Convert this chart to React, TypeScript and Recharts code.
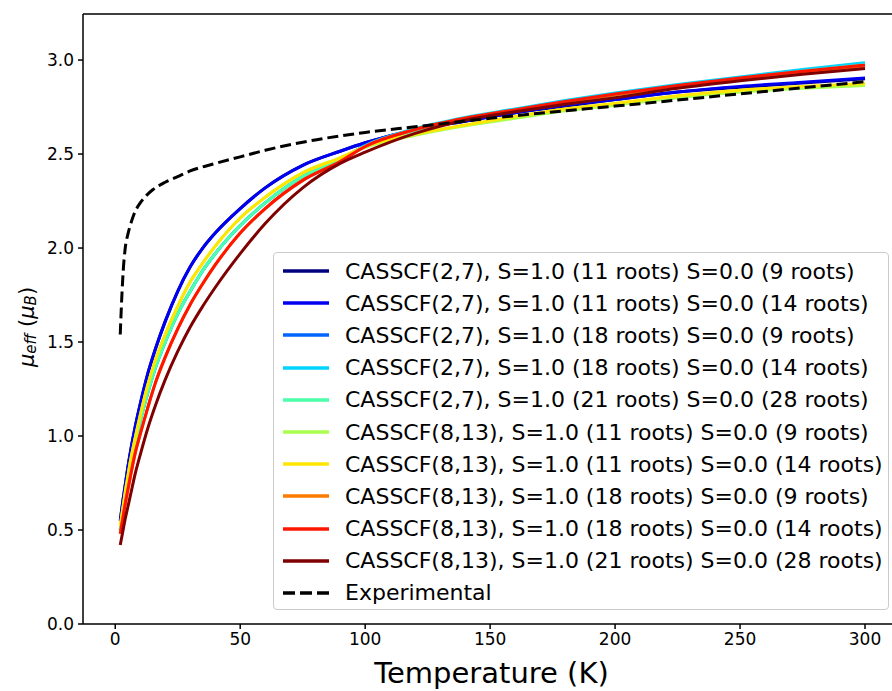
import React from 'react';
import { LineChart, Line, XAxis, YAxis, Legend, ReferenceLine, Label } from 'recharts';

const temps = [2, 3, 4, 5, 6, 8, 10, 13, 16, 20, 25, 30, 35, 40, 50, 60, 75, 90, 100, 120, 140, 160, 180, 200, 225, 250, 275, 300];

const cas27_11_9 = [0.55, 0.65, 0.74, 0.83, 0.91, 1.05, 1.17, 1.33, 1.46, 1.61, 1.77, 1.90, 2.00, 2.08, 2.21, 2.32, 2.44, 2.515, 2.56, 2.63, 2.675, 2.72, 2.755, 2.79, 2.83, 2.855, 2.878, 2.9];
const cas27_11_14 = [0.55, 0.65, 0.74, 0.83, 0.91, 1.05, 1.17, 1.33, 1.46, 1.61, 1.77, 1.90, 2.00, 2.08, 2.21, 2.32, 2.44, 2.515, 2.56, 2.63, 2.675, 2.72, 2.76, 2.79, 2.83, 2.86, 2.882, 2.905];
const cas27_18_9 = [0.50, 0.59, 0.68, 0.76, 0.83, 0.96, 1.08, 1.23, 1.36, 1.50, 1.65, 1.77, 1.88, 1.97, 2.12, 2.24, 2.38, 2.47, 2.545, 2.63, 2.69, 2.735, 2.78, 2.82, 2.865, 2.905, 2.945, 2.98];
const cas27_18_14 = [0.50, 0.59, 0.68, 0.76, 0.83, 0.96, 1.08, 1.23, 1.36, 1.50, 1.65, 1.77, 1.88, 1.97, 2.12, 2.24, 2.38, 2.47, 2.545, 2.635, 2.695, 2.74, 2.785, 2.825, 2.87, 2.91, 2.95, 2.986];
const cas27_21_28 = [0.50, 0.59, 0.68, 0.76, 0.83, 0.96, 1.08, 1.23, 1.36, 1.50, 1.65, 1.77, 1.88, 1.97, 2.12, 2.24, 2.38, 2.47, 2.54, 2.625, 2.685, 2.73, 2.775, 2.815, 2.86, 2.9, 2.94, 2.975];
const cas813_11_9 = [0.52, 0.61, 0.70, 0.78, 0.86, 0.99, 1.11, 1.27, 1.40, 1.54, 1.69, 1.82, 1.92, 2.01, 2.16, 2.27, 2.40, 2.48, 2.535, 2.6, 2.65, 2.69, 2.73, 2.76, 2.80, 2.83, 2.85, 2.865];
const cas813_11_14 = [0.52, 0.61, 0.70, 0.78, 0.86, 0.99, 1.11, 1.27, 1.40, 1.54, 1.69, 1.82, 1.92, 2.01, 2.16, 2.27, 2.40, 2.48, 2.54, 2.605, 2.655, 2.70, 2.74, 2.77, 2.81, 2.84, 2.86, 2.875];
const cas813_18_9 = [0.48, 0.56, 0.64, 0.71, 0.78, 0.91, 1.01, 1.15, 1.28, 1.42, 1.57, 1.70, 1.81, 1.91, 2.08, 2.21, 2.36, 2.46, 2.54, 2.63, 2.69, 2.735, 2.775, 2.815, 2.86, 2.90, 2.935, 2.968];
const cas813_18_14 = [0.48, 0.56, 0.64, 0.71, 0.78, 0.91, 1.01, 1.15, 1.28, 1.42, 1.57, 1.70, 1.81, 1.91, 2.08, 2.21, 2.36, 2.46, 2.54, 2.63, 2.69, 2.735, 2.78, 2.82, 2.865, 2.905, 2.94, 2.973];
const cas813_21_28 = [0.42, 0.49, 0.56, 0.62, 0.68, 0.80, 0.90, 1.04, 1.16, 1.30, 1.45, 1.58, 1.69, 1.79, 1.97, 2.13, 2.32, 2.45, 2.51, 2.61, 2.68, 2.725, 2.765, 2.80, 2.85, 2.89, 2.925, 2.955];

const expTemps = [2, 2.3, 2.7, 3.2, 4, 5, 6, 7.5, 10, 12.5, 15, 20, 25, 30, 40, 50, 60, 80, 100, 120, 150, 180, 200, 250, 300];
const expValues = [1.54, 1.64, 1.76, 1.88, 2.0, 2.07, 2.12, 2.18, 2.24, 2.28, 2.31, 2.35, 2.38, 2.41, 2.45, 2.485, 2.52, 2.575, 2.615, 2.645, 2.69, 2.73, 2.755, 2.82, 2.885];

const seriesNames = [
  'CASSCF(2,7), S=1.0 (11 roots) S=0.0 (9 roots)',
  'CASSCF(2,7), S=1.0 (11 roots) S=0.0 (14 roots)',
  'CASSCF(2,7), S=1.0 (18 roots) S=0.0 (9 roots)',
  'CASSCF(2,7), S=1.0 (18 roots) S=0.0 (14 roots)',
  'CASSCF(2,7), S=1.0 (21 roots) S=0.0 (28 roots)',
  'CASSCF(8,13), S=1.0 (11 roots) S=0.0 (9 roots)',
  'CASSCF(8,13), S=1.0 (11 roots) S=0.0 (14 roots)',
  'CASSCF(8,13), S=1.0 (18 roots) S=0.0 (9 roots)',
  'CASSCF(8,13), S=1.0 (18 roots) S=0.0 (14 roots)',
  'CASSCF(8,13), S=1.0 (21 roots) S=0.0 (28 roots)',
];
const seriesValues = [cas27_11_9, cas27_11_14, cas27_18_9, cas27_18_14, cas27_21_28, cas813_11_9, cas813_11_14, cas813_18_9, cas813_18_14, cas813_21_28];
const seriesColors = ['#00007f', '#0000f1', '#0064ff', '#00d4ff', '#4dffaa', '#aaff4d', '#ffe600', '#ff7a00', '#ff1600', '#7f0000'];
const expName = 'Experimental';

const xTicks = [0, 50, 100, 150, 200, 250, 300];
const yTicks = [0, 0.5, 1.0, 1.5, 2.0, 2.5, 3.0];

const toPoints = (xs: number[], ys: number[]) => xs.map((x, i) => ({ x, y: ys[i] }));

const FONT = 'DejaVu Sans, sans-serif';

const YLabel = (props: any) => {
  const { viewBox } = props;
  const cx = 27;
  const cy = viewBox.y + viewBox.height / 2 + 8;
  return (
    <text x={cx} y={cy} transform={`rotate(-90, ${cx}, ${cy})`} textAnchor="middle" dominantBaseline="central" fontFamily={FONT} fontSize={21} fill="#000">
      <tspan fontStyle="italic">μ</tspan>
      <tspan fontStyle="italic" fontSize={15} dy={4}>eff</tspan>
      <tspan dy={-4}> (</tspan>
      <tspan fontStyle="italic">μ</tspan>
      <tspan fontStyle="italic" fontSize={15} dy={4}>B</tspan>
      <tspan dy={-4}>)</tspan>
    </text>
  );
};

const LegendBox = () => {
  const rows = seriesNames.map((n, i) => ({ name: n, color: seriesColors[i], dashed: false }));
  rows.push({ name: expName, color: '#000', dashed: true });
  return (
    <div style={{
      width: 616, height: 358, boxSizing: 'border-box', background: 'rgba(255,255,255,0.8)',
      border: '1px solid #cccccc', borderRadius: 4, paddingTop: 2, paddingLeft: 8,
      fontFamily: FONT, fontSize: 22, color: '#000'
    }}>
      {rows.map((r) => (
        <div key={r.name} style={{ height: 32.2, display: 'flex', alignItems: 'center', whiteSpace: 'nowrap' }}>
          <svg width={48} height={10} style={{ marginRight: 15, flex: 'none' }}>
            <line x1={1} y1={5} x2={47} y2={5} stroke={r.color} strokeWidth={3.5} strokeDasharray={r.dashed ? '12 5' : undefined} />
          </svg>
          <span>{r.name}</span>
        </div>
      ))}
    </div>
  );
};

export default function App() {
  return (
    <div style={{ position: 'absolute', left: 0, top: 0, width: 892, height: 691, overflow: 'hidden', background: '#fff' }}>
      <LineChart width={892} height={691} margin={{ top: 14, right: 0, bottom: 0, left: 0 }}>
        <XAxis
          type="number"
          dataKey="x"
          domain={[-12.9, 310.8]}
          ticks={xTicks}
          allowDataOverflow
          height={67}
          tickSize={5}
          tickMargin={4}
          stroke="#000"
          strokeWidth={1.5}
          tick={{ fontFamily: FONT, fontSize: 17, fill: '#000' }}
        >
          <Label value="Temperature (K)" position="insideBottom" offset={8} dx={4} style={{ fontFamily: FONT, fontSize: 29, fill: '#000' }} />
        </XAxis>
        <YAxis
          type="number"
          domain={[0, 3.245]}
          ticks={yTicks}
          allowDataOverflow
          width={83}
          tickSize={5}
          tickMargin={4}
          stroke="#000"
          strokeWidth={1.5}
          tickFormatter={(v: number) => v.toFixed(1)}
          tick={{ fontFamily: FONT, fontSize: 17, fill: '#000' }}
          label={<YLabel />}
        />
        <ReferenceLine y={3.245} stroke="#000" strokeWidth={1.5} ifOverflow="extendDomain" />
        {seriesValues.map((vals, i) => (
          <Line
            key={seriesNames[i]}
            data={toPoints(temps, vals)}
            dataKey="y"
            name={seriesNames[i]}
            type="monotone"
            stroke={seriesColors[i]}
            strokeWidth={3}
            dot={false}
            activeDot={false}
            isAnimationActive={false}
          />
        ))}
        <Line
          data={toPoints(expTemps, expValues)}
          dataKey="y"
          name={expName}
          type="monotone"
          stroke="#000"
          strokeWidth={3}
          strokeDasharray="11 5"
          dot={false}
          activeDot={false}
          isAnimationActive={false}
        />
        <Legend
          layout="vertical"
          align="center"
          verticalAlign="middle"
          content={() => <LegendBox />}
          wrapperStyle={{ position: 'absolute', left: 273, top: 252, width: 616, height: 358 }}
        />
      </LineChart>
    </div>
  );
}
